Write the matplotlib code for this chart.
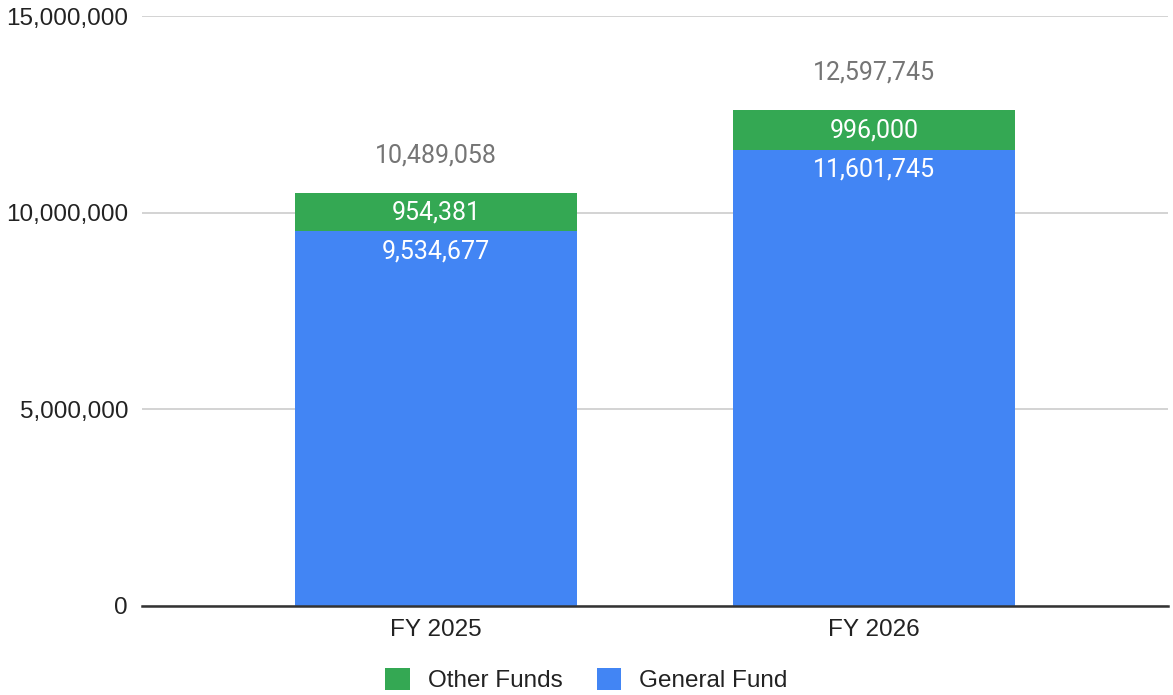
import matplotlib.pyplot as plt
import numpy as np

categories = ['FY 2025', 'FY 2026']
general_fund = [9534677, 11601745]
other_funds = [954381, 996000]
y_ticks = [0, 5000000, 10000000, 15000000]

BLUE = '#4285f4'
GREEN = '#34a853'

fig = plt.figure(figsize=(11.73, 6.95), dpi=100)
ax = fig.add_axes([142 / 1173, 1 - 606 / 695, 1026 / 1173, 590 / 695])

x = np.arange(len(categories))
width = 0.644
totals = [g + o for g, o in zip(general_fund, other_funds)]

ax.bar(x, general_fund, width, color=BLUE, label='General Fund', zorder=2)
ax.bar(x, other_funds, width, bottom=general_fund, color=GREEN, label='Other Funds', zorder=2)

for i in range(len(categories)):
    g, o, t = general_fund[i], other_funds[i], totals[i]
    ax.text(x[i], g + o / 2, f'{o:,}', ha='center', va='center', color='white',
            fontsize=18, family='Roboto', zorder=3)
    ax.annotate(f'{g:,}', (x[i], g), xytext=(0, -14.5), textcoords='offset points',
                ha='center', va='center', color='white', fontsize=18, family='Roboto', zorder=3)
    ax.annotate(f'{t:,}', (x[i], t), xytext=(0, 27.5), textcoords='offset points',
                ha='center', va='center', color='#757575', fontsize=18, family='Roboto', zorder=3)

ax.set_xlim(-0.672, 1.672)
ax.set_ylim(0, 15000000)
ax.set_yticks(y_ticks)
ax.set_yticklabels([f'{v:,}' for v in y_ticks], family='Liberation Sans', fontsize=17.5, color='#222222')
ax.set_xticks(x)
ax.set_xticklabels(categories, family='Liberation Sans', fontsize=17.5, color='#222222')
ax.tick_params(axis='y', length=0, pad=10)
ax.tick_params(axis='x', length=0, pad=9)

ax.yaxis.grid(True, color='#cccccc', linewidth=1.2, zorder=0)
ax.set_axisbelow(True)
for s in ['top', 'right', 'left']:
    ax.spines[s].set_visible(False)
ax.spines['bottom'].set_color('#333333')
ax.spines['bottom'].set_linewidth(1.8)
ax.spines['bottom'].set_zorder(4)

handles, labels = ax.get_legend_handles_labels()
leg = fig.legend(handles[::-1], labels[::-1], loc='center', bbox_to_anchor=(0.5, 1 - 680 / 695),
                 ncol=2, frameon=False, handlelength=1.0, handleheight=1.0, handletextpad=0.75,
                 columnspacing=1.4, prop={'family': 'Liberation Sans', 'size': 17.5})
for t in leg.get_texts():
    t.set_color('#222222')

fig.savefig('out.png', dpi=100, facecolor='white')
